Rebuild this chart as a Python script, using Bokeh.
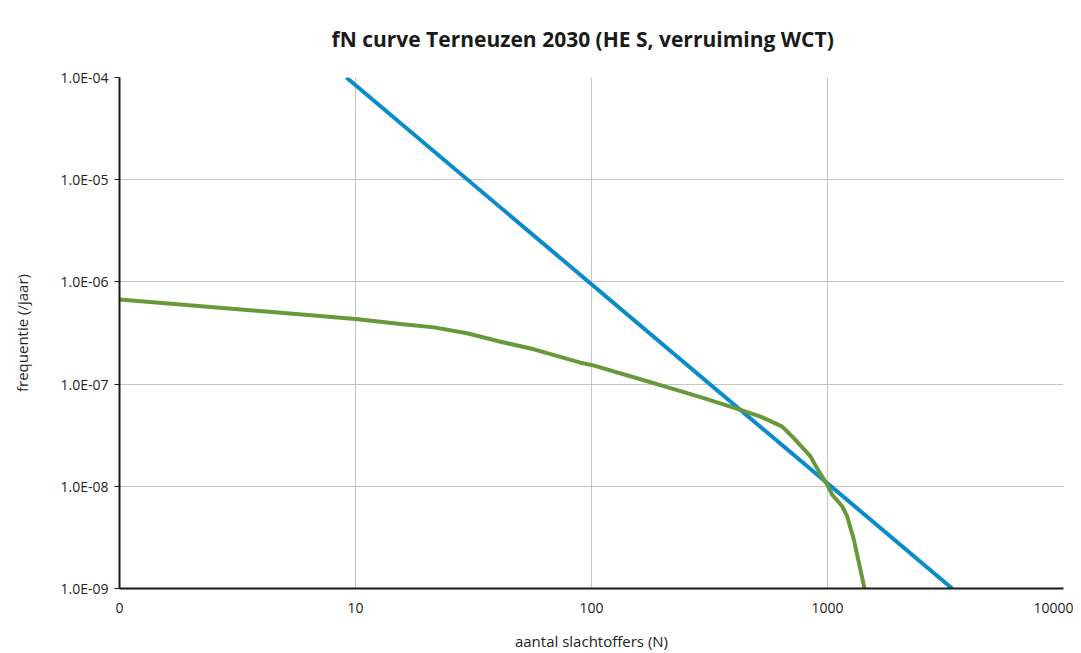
from bokeh.plotting import figure
from bokeh.models import FixedTicker, CustomJSTickFormatter, Range1d
from bokeh.embed import file_html
from bokeh.resources import INLINE

TITLE = "fN curve Terneuzen 2030 (HE S, verruiming WCT)"

# Norm line (blue)
norm_n = [9.15, 3375]
norm_f = [1.0e-4, 1.0e-9]

# fN curve (green)
curve_n = [1, 10, 15.5, 21.5, 29.7, 41.2, 57.0, 89.8, 100, 156, 216, 299, 428, 520, 643, 720,
           847, 919, 997, 1047, 1154, 1212, 1293, 1435]
curve_f = [6.74e-7, 4.33e-7, 3.87e-7, 3.59e-7, 3.14e-7, 2.60e-7, 2.19e-7, 1.62e-7, 1.54e-7,
           1.14e-7, 9.12e-8, 7.28e-8, 5.60e-8, 4.81e-8, 3.84e-8, 2.96e-8, 1.96e-8, 1.40e-8,
           1.04e-8, 8.28e-9, 6.37e-9, 5.08e-9, 3.01e-9, 1.0e-9]

x_ticks = [1, 10, 100, 1000, 10000]
y_ticks = [1e-9, 1e-8, 1e-7, 1e-6, 1e-5, 1e-4]

FONT = "Open Sans"

p = figure(width=1073, height=653, x_axis_type="log", y_axis_type="log",
           x_range=Range1d(1, 10000), y_range=Range1d(1e-9, 1e-4),
           output_backend="svg", toolbar_location=None, title=TITLE,
           min_border_left=119, min_border_right=10, min_border_top=77, min_border_bottom=64)

p.title.align = "left"
p.title.offset = 212
p.title.vertical_align = "top"
p.title.text_font = FONT
p.title.text_font_style = "bold"
p.title.text_font_size = "21px"
p.title.text_color = "#1a1a1a"
p.title.standoff = 46
p.outline_line_color = None

p.line(norm_n, norm_f, line_color="#0a8bcb", line_width=4)
p.line(curve_n, curve_f, line_color="#67983a", line_width=4, line_join="round")

p.xaxis.ticker = FixedTicker(ticks=x_ticks)
p.yaxis.ticker = FixedTicker(ticks=y_ticks)
p.xgrid.ticker = FixedTicker(ticks=x_ticks)
p.ygrid.ticker = FixedTicker(ticks=y_ticks)
p.xaxis.formatter = CustomJSTickFormatter(code="return tick < 2 ? '0' : String(Math.round(tick));")
p.yaxis.formatter = CustomJSTickFormatter(code="""
const e = Math.round(Math.log10(tick));
const a = Math.abs(e);
return '1.0E' + (e < 0 ? '-' : '+') + (a < 10 ? '0' : '') + a;
""")

for ax in (p.xaxis, p.yaxis):
    ax.axis_line_color = "#1a1a1a"
    ax.axis_line_width = 2
    ax.minor_tick_line_color = None
    ax.major_label_text_font = FONT
    ax.major_label_text_font_size = "14px"
    ax.major_label_text_color = "#222222"
    ax.axis_label_text_font = FONT
    ax.axis_label_text_font_size = "15px"
    ax.axis_label_text_font_style = "normal"
    ax.axis_label_text_color = "#222222"

p.xaxis.axis_label = "aantal slachtoffers (N)"
p.yaxis.axis_label = "frequentie (/jaar)"
p.xaxis.major_tick_line_color = None
p.xaxis.major_tick_out = 0
p.xaxis.major_label_standoff = 14
p.xaxis.axis_label_standoff = 15
p.yaxis.major_tick_line_color = "#1a1a1a"
p.yaxis.major_tick_out = 5
p.yaxis.major_tick_in = 0
p.yaxis.major_label_standoff = 6
p.yaxis.axis_label_standoff = 26

p.xgrid.grid_line_color = "#c4c4c4"
p.ygrid.grid_line_color = "#c4c4c4"
p.xgrid.grid_line_width = 1
p.ygrid.grid_line_width = 1

open("out.html", "w").write(file_html(p, INLINE))
